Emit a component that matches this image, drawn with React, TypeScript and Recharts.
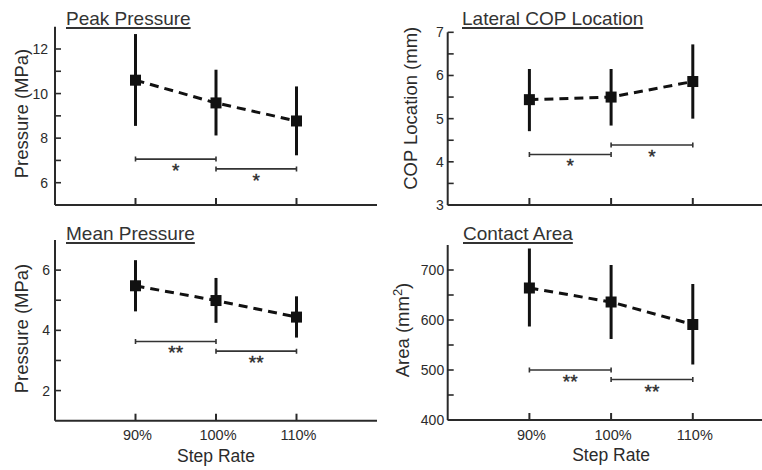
import React from "react";
import { ComposedChart, Line, ErrorBar, XAxis, YAxis, ReferenceLine } from "recharts";

const stepRates = [90, 100, 110];
const stepLabels = ["90%", "100%", "110%"];
const sigPairs = [
  [90, 100],
  [100, 110],
];

const peakMean = [10.6, 9.58, 8.77];
const peakLow = [8.55, 8.12, 7.23];
const peakHigh = [12.67, 11.07, 10.32];
const peakSig = [7.06, 6.62];

const copMean = [5.44, 5.5, 5.86];
const copLow = [4.71, 4.84, 5.0];
const copHigh = [6.15, 6.15, 6.72];
const copSig = [4.17, 4.39];

const meanMean = [5.48, 4.99, 4.44];
const meanLow = [4.63, 4.25, 3.76];
const meanHigh = [6.33, 5.74, 5.13];
const meanSig = [3.63, 3.31];

const areaMean = [664, 636, 591];
const areaLow = [587, 562, 511];
const areaHigh = [743, 710, 672];
const areaSig = [500, 481];

const FONT = '"Liberation Sans", Arial, sans-serif';
const INK = "#111";
const AXIS = "#2a2a2a";
const TEXT = "#2b2b2b";

type PanelProps = {
  title: string;
  yLabel: React.ReactNode;
  mean: number[];
  low: number[];
  high: number[];
  sig: number[];
  stars: string;
  domain: [number, number];
  yTicks: number[];
  yLabeled: number[];
  left: number;
  top: number;
  width: number;
  height: number;
  marginTop: number;
  marginRight: number;
  yAxisWidth: number;
  xAxisHeight: number;
  tickGap: number;
  labelX: number;
  labelY: number;
  titleLeft: number;
  titleBaseline: number;
  showX: boolean;
};

function makeYTick(labeled: number[], gap: number) {
  return (props: any) => {
    const { x, y, payload } = props;
    const v = payload.value;
    return (
      <g>
        <line x1={x} y1={y} x2={x + 6} y2={y} stroke={AXIS} strokeWidth={1.6} />
        {labeled.includes(v) && (
          <text x={x - gap} y={y + 5} textAnchor="end" fontSize={14} fill={TEXT} fontFamily={FONT}>
            {v}
          </text>
        )}
      </g>
    );
  };
}

function makeXTick(show: boolean) {
  return (props: any) => {
    const { x, y, payload } = props;
    const i = stepRates.indexOf(payload.value);
    return (
      <g>
        <line x1={x} y1={y} x2={x} y2={y - 7} stroke={AXIS} strokeWidth={2} />
        {show && (
          <text x={x + 2} y={y + 19.5} textAnchor="middle" fontSize={14.5} fill={TEXT} fontFamily={FONT}>
            {stepLabels[i]}
          </text>
        )}
      </g>
    );
  };
}

// significance bracket: line between two step rates with short end ticks and stars underneath
function makeBracket(stars: string) {
  return (props: any) => {
    const { x1, y1, x2, y2 } = props;
    return (
      <g>
        <path
          d={`M${x1},${y1 - 2.5}V${y1 + 2.5}M${x1},${y1}H${x2}M${x2},${y2 - 2.5}V${y2 + 2.5}`}
          stroke="#333"
          strokeWidth={1.6}
          fill="none"
        />
        <text
          x={(x1 + x2) / 2}
          y={y1 + 18}
          textAnchor="middle"
          fontSize={19}
          fill={TEXT}
          stroke={TEXT}
          strokeWidth={0.4}
          fontFamily={FONT}
        >
          {stars}
        </text>
      </g>
    );
  };
}

const squareDot = (props: any) => (
  <rect key={`dot-${props.index}`} x={props.cx - 5.5} y={props.cy - 5.5} width={11} height={11} fill={INK} />
);

function Panel(p: PanelProps) {
  const data = stepRates.map((rate, i) => ({
    rate,
    mean: p.mean[i],
    err: [p.mean[i] - p.low[i], p.high[i] - p.mean[i]],
  }));

  return (
    <>
      <div
        style={{
          position: "absolute",
          left: p.titleLeft,
          top: p.titleBaseline - 16.1,
          fontSize: 19,
          lineHeight: "19px",
          fontFamily: FONT,
          color: "#333",
          textDecoration: "underline",
          textDecorationThickness: "1.5px",
          textUnderlineOffset: "2px",
          whiteSpace: "nowrap",
        }}
      >
        {p.title}
      </div>
      <div style={{ position: "absolute", left: p.left, top: p.top }}>
        <ComposedChart
          width={p.width}
          height={p.height}
          data={data}
          margin={{ top: p.marginTop, right: p.marginRight, bottom: 0, left: 0 }}
        >
          <XAxis
            dataKey="rate"
            type="number"
            domain={[80, 120]}
            ticks={stepRates}
            interval={0}
            allowDataOverflow
            height={p.xAxisHeight}
            tickSize={0}
            tickMargin={0}
            tickLine={false}
            axisLine={{ stroke: AXIS, strokeWidth: 2 }}
            tick={makeXTick(p.showX)}
            label={
              p.showX
                ? {
                    content: (lp: any) => {
                      const vb = lp.viewBox;
                      return (
                        <text
                          x={vb.x + vb.width / 2}
                          y={vb.y + 41}
                          textAnchor="middle"
                          fontSize={17.5}
                          fill={TEXT}
                          fontFamily={FONT}
                        >
                          Step Rate
                        </text>
                      );
                    },
                  }
                : undefined
            }
          />
          <YAxis
            type="number"
            domain={p.domain}
            ticks={p.yTicks}
            interval={0}
            allowDataOverflow
            width={p.yAxisWidth}
            tickSize={0}
            tickMargin={0}
            tickLine={false}
            axisLine={{ stroke: AXIS, strokeWidth: 2 }}
            tick={makeYTick(p.yLabeled, p.tickGap)}
            label={{
              content: () => (
                <text
                  x={p.labelX}
                  y={p.labelY}
                  transform={`rotate(-90 ${p.labelX} ${p.labelY})`}
                  textAnchor="middle"
                  fontSize={18.5}
                  fill={TEXT}
                  fontFamily={FONT}
                >
                  {p.yLabel}
                </text>
              ),
            }}
          />
          {sigPairs.map((pair, i) => (
            <ReferenceLine
              key={`sig-${i}`}
              segment={[
                { x: pair[0], y: p.sig[i] },
                { x: pair[1], y: p.sig[i] },
              ]}
              shape={makeBracket(p.stars)}
            />
          ))}
          <Line
            dataKey="mean"
            type="linear"
            stroke={INK}
            strokeWidth={3}
            strokeDasharray="9 6"
            dot={squareDot}
            activeDot={false}
            isAnimationActive={false}
          >
            <ErrorBar dataKey="err" width={0} strokeWidth={3} stroke={INK} direction="y" isAnimationActive={false} />
          </Line>
        </ComposedChart>
      </div>
    </>
  );
}

export default function App() {
  return (
    <div
      style={{
        position: "absolute",
        left: 0,
        top: 0,
        width: 762,
        height: 470,
        overflow: "hidden",
        background: "#fff",
        fontFamily: FONT,
      }}
    >
      <Panel
        title="Peak Pressure"
        yLabel="Pressure (MPa)"
        mean={peakMean}
        low={peakLow}
        high={peakHigh}
        sig={peakSig}
        stars="*"
        domain={[5, 13]}
        yTicks={[6, 7, 8, 9, 10, 11, 12]}
        yLabeled={[6, 8, 10, 12]}
        left={0}
        top={0}
        width={381}
        height={215}
        marginTop={26.7}
        marginRight={4}
        yAxisWidth={55}
        xAxisHeight={10}
        tickGap={7}
        labelX={27.5}
        labelY={113.5}
        titleLeft={66}
        titleBaseline={25}
        showX={false}
      />
      <Panel
        title="Lateral COP Location"
        yLabel="COP Location (mm)"
        mean={copMean}
        low={copLow}
        high={copHigh}
        sig={copSig}
        stars="*"
        domain={[3, 7]}
        yTicks={[3, 3.5, 4, 4.5, 5, 5.5, 6, 6.5, 7]}
        yLabeled={[3, 4, 5, 6, 7]}
        left={381}
        top={0}
        width={400}
        height={215}
        marginTop={32.3}
        marginRight={6.5}
        yAxisWidth={66.7}
        xAxisHeight={10}
        tickGap={4}
        labelX={36}
        labelY={108.3}
        titleLeft={462}
        titleBaseline={25}
        showX={false}
      />
      <Panel
        title="Mean Pressure"
        yLabel="Pressure (MPa)"
        mean={meanMean}
        low={meanLow}
        high={meanHigh}
        sig={meanSig}
        stars="**"
        domain={[1, 7]}
        yTicks={[2, 3, 4, 5, 6]}
        yLabeled={[2, 4, 6]}
        left={0}
        top={215}
        width={381}
        height={255}
        marginTop={25}
        marginRight={4}
        yAxisWidth={55}
        xAxisHeight={49.3}
        tickGap={5}
        labelX={28}
        labelY={113.5}
        titleLeft={66}
        titleBaseline={240}
        showX={true}
      />
      <Panel
        title="Contact Area"
        yLabel={
          <>
            Area (mm
            <tspan dy={-7} fontSize={13}>
              2
            </tspan>
            <tspan dy={7}>)</tspan>
          </>
        }
        mean={areaMean}
        low={areaLow}
        high={areaHigh}
        sig={areaSig}
        stars="**"
        domain={[400, 750]}
        yTicks={[400, 450, 500, 550, 600, 650, 700]}
        yLabeled={[400, 500, 600, 700]}
        left={381}
        top={215}
        width={400}
        height={255}
        marginTop={30}
        marginRight={6.5}
        yAxisWidth={66.7}
        xAxisHeight={50}
        tickGap={3.5}
        labelX={28}
        labelY={115}
        titleLeft={463}
        titleBaseline={240}
        showX={true}
      />
    </div>
  );
}
